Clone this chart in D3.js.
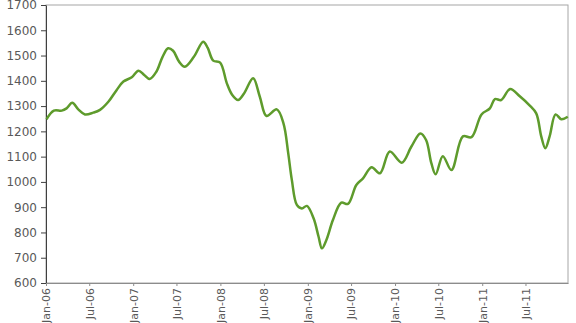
<!DOCTYPE html>
<html>
<head>
<meta charset="utf-8">
<script src="https://cdn.jsdelivr.net/npm/d3@7"></script>
<style>
  html, body { margin: 0; padding: 0; background: #fff; }
  svg { display: block; }
</style>
</head>
<body>
<script>
const width = 576;
const height = 323;

// irregular dates at turning points
const dates = [
  "2006-01-03", "2006-02-03", "2006-03-08", "2006-03-28", "2006-04-21", "2006-05-16",
  "2006-06-13", "2006-07-18", "2006-08-15", "2006-09-19", "2006-10-24", "2006-11-21",
  "2006-12-26", "2007-01-23", "2007-02-16", "2007-03-11", "2007-04-08", "2007-05-03",
  "2007-05-27", "2007-06-17", "2007-07-12", "2007-08-05", "2007-09-12", "2007-10-21",
  "2007-11-09", "2007-12-02", "2007-12-31", "2008-01-28", "2008-02-19", "2008-03-15",
  "2008-04-09", "2008-05-17", "2008-06-14", "2008-07-12", "2008-08-24", "2008-09-21",
  "2008-10-11", "2008-10-26", "2008-11-16", "2008-12-07", "2008-12-28", "2009-01-25",
  "2009-02-15", "2009-03-01", "2009-03-20", "2009-04-16", "2009-05-21", "2009-06-18",
  "2009-07-23", "2009-08-20", "2009-09-25", "2009-10-30", "2009-12-10", "2010-01-29",
  "2010-03-10", "2010-04-17", "2010-05-11", "2010-06-02", "2010-06-20", "2010-07-20",
  "2010-08-25", "2010-10-12", "2010-11-17", "2010-12-29", "2011-02-02", "2011-02-23",
  "2011-03-21", "2011-04-28", "2011-06-06", "2011-07-17", "2011-08-15", "2011-09-05",
  "2011-09-22", "2011-10-10", "2011-11-04", "2011-11-28", "2011-12-25"
];
const values = [
  1248, 1282, 1282, 1291, 1313, 1287,
  1267, 1274, 1285, 1317, 1364, 1397,
  1414, 1440, 1423, 1407, 1436, 1493,
  1529, 1519, 1476, 1456, 1495, 1555,
  1530, 1480, 1472, 1390, 1345, 1324,
  1350, 1410, 1337, 1261, 1287, 1232,
  1113, 1008, 909, 895, 905, 856,
  783, 737, 771, 849, 918, 913,
  988, 1014, 1058, 1034, 1120, 1076,
  1139, 1192, 1166, 1074, 1030, 1102,
  1047, 1180, 1177, 1267, 1291, 1328,
  1324, 1368, 1340, 1304, 1271, 1180,
  1133, 1180, 1267, 1248, 1258
];
const yTicks = [600, 700, 800, 900, 1000, 1100, 1200, 1300, 1400, 1500, 1600, 1700];

const parse = d3.timeParse("%Y-%m-%d");
const data = dates.map((d, i) => ({ date: parse(d), value: values[i] }));

const margin = { top: 5, right: 8, bottom: 40, left: 46 };

const x = d3.scaleTime()
  .domain([parse("2006-01-01"), parse("2011-12-26")])
  .range([margin.left, width - margin.right]);
const y = d3.scaleLinear()
  .domain([600, 1700])
  .range([height - margin.bottom, margin.top]);

const svg = d3.select("body").append("svg")
  .attr("width", width)
  .attr("height", height);

// plot frame
svg.append("rect")
  .attr("x", margin.left)
  .attr("y", margin.top)
  .attr("width", width - margin.right - margin.left)
  .attr("height", height - margin.bottom - margin.top)
  .attr("fill", "none")
  .attr("stroke", "#a6a6a6");

// y axis
const yAxis = svg.append("g")
  .attr("transform", `translate(${margin.left},0)`)
  .call(d3.axisLeft(y)
    .tickValues(yTicks)
    .tickFormat(d3.format("d"))
    .tickSize(5)
    .tickSizeOuter(0)
    .tickPadding(4));
yAxis.select(".domain").attr("stroke", "#404040");
yAxis.selectAll(".tick line").attr("stroke", "#404040");
yAxis.selectAll("text")
  .attr("fill", "#595959")
  .attr("font-family", "DejaVu Sans, sans-serif")
  .attr("font-size", 12);

// x axis
const xAxis = svg.append("g")
  .attr("transform", `translate(0,${height - margin.bottom})`)
  .call(d3.axisBottom(x)
    .ticks(d3.timeMonth.every(6))
    .tickFormat(d3.timeFormat("%b-%y"))
    .tickSize(3)
    .tickSizeOuter(0));
xAxis.select(".domain").attr("stroke", "#8c8c8c");
xAxis.selectAll(".tick line").attr("stroke", "#8c8c8c");
xAxis.selectAll("text")
  .attr("fill", "#595959")
  .attr("font-family", "DejaVu Sans, sans-serif")
  .attr("font-size", 11)
  .attr("text-anchor", "end")
  .attr("transform", "rotate(-90)")
  .attr("x", -5)
  .attr("y", 0)
  .attr("dy", "0.35em");

// the series
const line = d3.line()
  .curve(d3.curveCatmullRom.alpha(0.5))
  .x(d => x(d.date))
  .y(d => y(d.value));

svg.append("path")
  .datum(data)
  .attr("d", line)
  .attr("fill", "none")
  .attr("stroke", "#5e9b2c")
  .attr("stroke-width", 2.5)
  .attr("stroke-linejoin", "round");
</script>
</body>
</html>
